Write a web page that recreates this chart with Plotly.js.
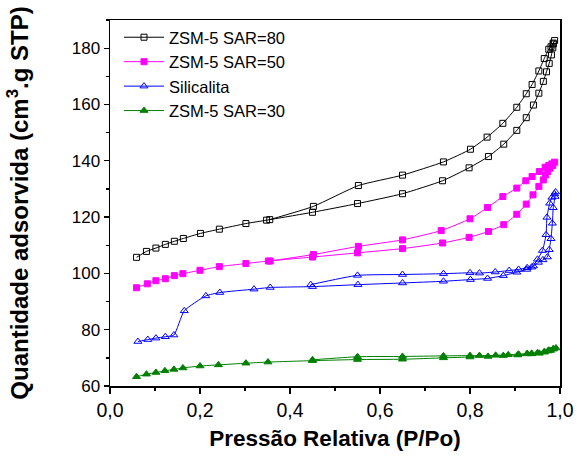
<!DOCTYPE html>
<html>
<head>
<meta charset="utf-8">
<script src="https://cdn.plot.ly/plotly-3.0.1.min.js"></script>
<style>html,body{margin:0;padding:0;background:#fff;}#chart{width:577px;height:457px;}</style>
</head>
<body>
<div id="chart"></div>
<script>
// ZSM-5 SAR=80
const sar80AdsX = [0.059,0.081,0.102,0.123,0.143,0.163,0.201,0.243,0.302,0.348,0.450,0.550,0.650,0.739,0.798,0.841,0.875,0.904,0.925,0.941,0.953,0.963,0.970,0.976,0.981,0.984,0.985,0.988];
const sar80AdsY = [105.7,107.8,109.0,110.3,111.4,112.4,114.2,115.7,117.7,118.9,121.7,124.8,128.3,132.9,137.5,141.5,145.9,150.8,155.3,159.8,164.0,168.2,171.6,174.6,177.6,180.1,181.5,182.7];
const sar80DesX = [0.985,0.980,0.975,0.965,0.953,0.938,0.925,0.904,0.873,0.838,0.801,0.741,0.650,0.552,0.452,0.355];
const sar80DesY = [181.8,180.5,179.6,176.3,171.9,167.1,163.8,159.0,153.3,148.4,144.1,139.6,134.9,131.2,123.8,119.1];
// ZSM-5 SAR=50
const sar50AdsX = [0.059,0.083,0.102,0.123,0.143,0.162,0.200,0.243,0.302,0.352,0.450,0.550,0.650,0.739,0.798,0.841,0.875,0.904,0.925,0.940,0.953,0.963,0.968,0.973,0.978,0.984,0.988];
const sar50AdsY = [94.9,96.3,97.4,98.1,99.2,99.9,101.1,102.4,103.5,104.4,105.8,107.3,108.8,110.8,112.8,114.9,117.3,121.0,124.6,127.9,130.9,133.2,135.0,136.2,137.4,138.3,139.5];
const sar50DesX = [0.982,0.975,0.967,0.954,0.938,0.924,0.904,0.873,0.839,0.800,0.736,0.650,0.552,0.452,0.356];
const sar50DesY = [138.9,138.3,137.7,136.2,134.4,132.9,130.3,127.3,123.4,119.4,115.2,111.9,109.6,106.7,104.4];
// Silicalita
const silAdsX = [0.062,0.084,0.102,0.123,0.142,0.165,0.213,0.244,0.320,0.356,0.450,0.551,0.650,0.741,0.801,0.839,0.874,0.904,0.926,0.941,0.952,0.962,0.972,0.976,0.980,0.983,0.985,0.989,0.990];
const silAdsY = [75.8,76.5,77.0,77.5,78.1,86.7,92.0,93.2,94.4,95.0,95.3,96.0,96.6,97.2,97.8,98.2,99.2,100.4,101.4,102.6,103.9,104.8,105.8,108.4,112.3,117.8,123.3,127.3,128.9];
const silDesX = [0.988,0.982,0.977,0.971,0.969,0.961,0.950,0.937,0.927,0.908,0.887,0.856,0.821,0.800,0.741,0.650,0.550,0.446];
const silDesY = [128.2,127.0,124.9,119.9,113.7,108.1,105.0,102.2,102.0,101.4,101.0,100.5,100.1,100.2,99.9,99.6,99.3,96.0];
// ZSM-5 SAR=30
const sar30AdsX = [0.059,0.081,0.102,0.122,0.142,0.162,0.200,0.241,0.302,0.351,0.450,0.550,0.650,0.741,0.800,0.840,0.874,0.906,0.927,0.937,0.954,0.965,0.973,0.979,0.985,0.991];
const sar30AdsY = [63.3,64.2,64.8,65.4,65.9,66.4,67.1,67.5,68.1,68.5,69.0,69.4,69.5,70.0,70.3,70.5,70.8,71.0,71.4,71.4,71.6,72.0,72.4,72.6,73.1,73.5];
const sar30DesX = [0.985,0.975,0.965,0.950,0.937,0.927,0.908,0.885,0.857,0.821,0.800,0.741,0.650,0.550,0.450];
const sar30DesY = [73.2,72.7,72.2,71.8,71.6,71.5,71.3,71.1,70.9,70.8,70.8,70.7,70.5,70.4,69.3];

const names = ['ZSM-5 SAR=80','ZSM-5 SAR=50','Silicalita','ZSM-5 SAR=30'];
const xTicks = [0,0.2,0.4,0.6,0.8,1.0];
const yTicks = [60,80,100,120,140,160,180];

const FONT = 'Arial, "Liberation Sans", Helvetica, sans-serif';
function tr(name, ax, ay, dx, dy, color, symbol, size) {
  return {
    type: 'scatter', mode: 'lines+markers', name: name,
    x: ax.concat(dx), y: ay.concat(dy),
    line: {color: color, width: 1, shape: 'spline', smoothing: 0.5},
    marker: {symbol: symbol, size: size, color: color, line: {color: color, width: 1}}
  };
}
const data = [
  tr(names[0], sar80AdsX, sar80AdsY, sar80DesX, sar80DesY, '#000000', 'square-open', 6),
  tr(names[1], sar50AdsX, sar50AdsY, sar50DesX, sar50DesY, '#ff00ff', 'square', 6),
  tr(names[2], silAdsX, silAdsY, silDesX, silDesY, '#0000ff', 'triangle-up-open', 7),
  tr(names[3], sar30AdsX, sar30AdsY, sar30DesX, sar30DesY, '#008000', 'triangle-up', 7)
];
const layout = {
  width: 577, height: 457,
  margin: {l: 110, r: 17, t: 20, b: 71},
  paper_bgcolor: '#fff', plot_bgcolor: '#fff',
  separators: ',.',
  font: {family: FONT, color: '#000', size: 16},
  showlegend: true,
  legend: {x: 0.02, y: 1.0, xanchor: 'left', yanchor: 'top', bgcolor: 'rgba(0,0,0,0)',
           font: {family: FONT, size: 16.5, color: '#000'}, itemwidth: 40, tracegroupgap: 0},
  xaxis: {
    range: [0, 1], tickvals: xTicks, tickformat: '.1f',
    ticks: 'outside', ticklen: 6, tickwidth: 1.3, tickcolor: '#000',
    minor: {dtick: 0.1, ticks: 'outside', ticklen: 3, tickwidth: 1.3, tickcolor: '#000'},
    showline: true, linecolor: '#000', linewidth: 1.5, mirror: true,
    showgrid: false, zeroline: false,
    tickfont: {family: FONT, size: 19.5, color: '#000'},
    title: {text: '<b>Pressão Relativa (P/Po)</b>', font: {family: FONT, size: 22.5, color: '#000'}, standoff: 10}
  },
  yaxis: {
    range: [60, 190], tickvals: yTicks,
    ticks: 'outside', ticklen: 5, tickwidth: 1.3, tickcolor: '#000',
    minor: {dtick: 10, ticks: 'outside', ticklen: 3, tickwidth: 1.3, tickcolor: '#000'},
    showline: true, linecolor: '#000', linewidth: 1.5, mirror: true,
    showgrid: false, zeroline: false,
    tickfont: {family: FONT, size: 17, color: '#000'},
    title: {text: '<b>Quantidade adsorvida (cm<sup>3</sup>.g STP)</b>', font: {family: FONT, size: 24, color: '#000'}, standoff: 36}
  }
};
Plotly.newPlot('chart', data, layout, {displayModeBar: false, staticPlot: true});
</script>
</body>
</html>
